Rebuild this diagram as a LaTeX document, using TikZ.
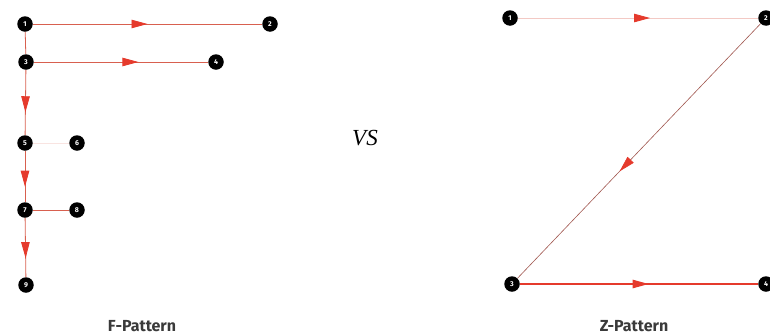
\documentclass[tikz,border=0pt]{standalone}
\usepackage{fontspec}
\setsansfont{Fira Sans}
\newfontfamily\vsfont{Liberation Serif}
\usetikzlibrary{decorations.markings, arrows.meta}
\definecolor{arrowred}{HTML}{E53A2C}
\definecolor{linered}{HTML}{D8604F}
\definecolor{palered}{HTML}{F3C9C4}
\definecolor{darkred}{HTML}{A0564E}
\definecolor{captiongray}{HTML}{3A3A3A}

\tikzset{
  dot/.style={circle, fill=black, minimum size=15.5pt, inner sep=0pt,
    text=white, font=\sffamily\bfseries\fontsize{7}{7}\selectfont},
  link/.style={linered, line width=0.8pt},
  midarrow/.style={postaction={decorate}, decoration={markings,
    mark=at position #1 with {\arrow[arrowred]{Triangle[length=16pt, width=8.5pt]}}}},
  caption/.style={text=captiongray, font=\sffamily\bfseries\fontsize{16}{18}\selectfont}
}

\begin{document}
\begin{tikzpicture}[x=1pt, y=-1pt]
    \useasboundingbox (0,0) rectangle (770,335);

    % 1. F-pattern dots
    \node[dot] (f1) at (25,24) {1};
    \node[dot] (f2) at (270,24) {2};
    \node[dot] (f3) at (26,62) {3};
    \node[dot] (f4) at (216,62) {4};
    \node[dot] (f5) at (25,143) {5};
    \node[dot] (f6) at (77,143) {6};
    \node[dot] (f7) at (25,210) {7};
    \node[dot] (f8) at (77,210) {8};
    \node[dot] (f9) at (26,285) {9};

    % 2. F-pattern reading path
    \draw[link, midarrow=0.5] (f1) -- (f2);
    \draw[link] (f1) -- (f3);
    \draw[link, midarrow=0.6] (f3) -- (f4);
    \draw[link, midarrow=0.65] (f3) -- (f5);
    \draw[palered!50, line width=0.6pt] (f5) -- (f6);
    \draw[link, midarrow=0.7] (f5) -- (f7);
    \draw[link] (f7) -- (f8);
    \draw[link, midarrow=0.68] (f7) -- (f9);

    % 3. Z-pattern dots (the right ones run off the page)
    \node[dot] (z1) at (510,18) {1};
    \node[dot] (z2) at (766,18) {2};
    \node[dot] (z3) at (512,284) {3};
    \node[dot] (z4) at (766,284) {4};

    % 4. Z-pattern reading path
    \draw[palered, line width=0.8pt, midarrow=0.55] (z1) -- (z2);
    \draw[darkred, line width=0.6pt, midarrow=0.58] (z2) -- (z3);
    \draw[arrowred, line width=1.1pt, midarrow=0.54] (z3) -- (z4);

    % 5. Captions
    \node[caption] (fcap) at (142,326) {F-Pattern};
    \node[caption] (zcap) at (634,326) {Z-Pattern};
    \node[font=\vsfont\itshape\fontsize{23}{25}\selectfont] (vs) at (365,138) {VS};

\end{tikzpicture}
\end{document}
